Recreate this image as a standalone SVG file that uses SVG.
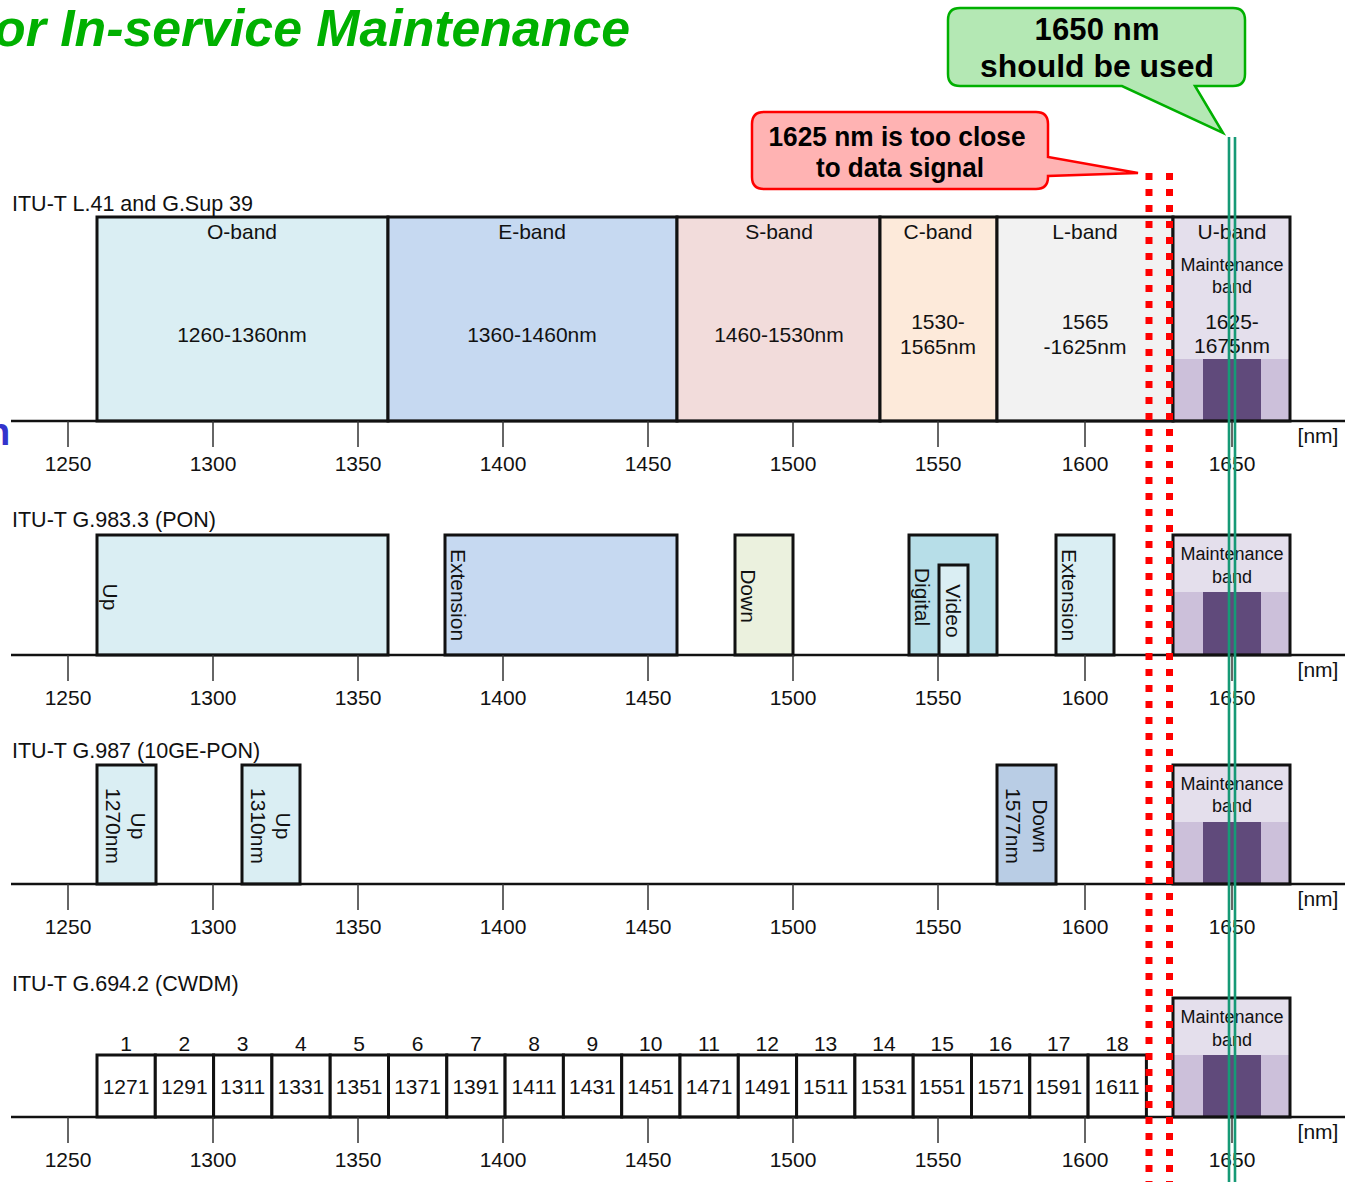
<svg xmlns="http://www.w3.org/2000/svg" width="1345" height="1182" viewBox="0 0 1345 1182">
<style>
.t{font-family:"Liberation Sans",Arial,sans-serif;font-size:21px;fill:#111;text-anchor:middle}
.s{font-size:18px}
.lab{text-anchor:start;font-size:21.5px}
.box{stroke:#111;stroke-width:3}
.ax{stroke:#111;stroke-width:2.5}
.tk{stroke:#333;stroke-width:1.5}
.c{font-family:"Liberation Sans",Arial,sans-serif;font-weight:bold;fill:#000;text-anchor:middle}
.red{fill:none;stroke:#ff0000;stroke-width:7;stroke-dasharray:7 9}
.grn{stroke:#169a76;stroke-width:2.6}
</style>
<rect width="1345" height="1182" fill="#fff"/>
<text x="-6" y="46" font-family="Liberation Sans,Arial,sans-serif" font-weight="bold" font-style="italic" font-size="52" fill="#00b000" textLength="636" lengthAdjust="spacingAndGlyphs">or In-service Maintenance</text>
<text x="-13" y="445" font-family="Liberation Sans,Arial,sans-serif" font-weight="bold" font-size="38" fill="#3333cc">n</text>

<g id="row1">
<text class="t lab" x="12" y="211">ITU-T L.41 and G.Sup 39</text>
<rect class="box" x="97" y="217" width="291" height="204" fill="#daeef3"/>
<rect class="box" x="388" y="217" width="289" height="204" fill="#c6d9f1"/>
<rect class="box" x="677" y="217" width="203" height="204" fill="#f2dcdb"/>
<rect class="box" x="880" y="217" width="117" height="204" fill="#fdeada"/>
<rect class="box" x="997" y="217" width="176" height="204" fill="#f2f2f2"/>
<rect x="1173" y="217" width="117" height="204" fill="#e4dfec"/>
<rect x="1173" y="359" width="117" height="62" fill="#ccc0da"/>
<rect x="1203" y="359" width="58" height="62" fill="#604a7b"/>
<rect class="box" x="1173" y="217" width="117" height="204" fill="none"/>
<text class="t" x="242" y="239">O-band</text>
<text class="t" x="242" y="342">1260-1360nm</text>
<text class="t" x="532" y="239">E-band</text>
<text class="t" x="532" y="342">1360-1460nm</text>
<text class="t" x="779" y="239">S-band</text>
<text class="t" x="779" y="342">1460-1530nm</text>
<text class="t" x="938" y="239">C-band</text>
<text class="t" x="938" y="329">1530-</text>
<text class="t" x="938" y="354">1565nm</text>
<text class="t" x="1085" y="239">L-band</text>
<text class="t" x="1085" y="329">1565</text>
<text class="t" x="1085" y="354">-1625nm</text>
<text class="t" x="1232" y="239">U-band</text>
<text class="t s" x="1232" y="271">Maintenance</text>
<text class="t s" x="1232" y="293">band</text>
<text class="t" x="1232" y="329">1625-</text>
<text class="t" x="1232" y="353">1675nm</text>
<line class="ax" x1="11" y1="421" x2="1345" y2="421"/>
<g class="tk"><line x1="68" y1="421" x2="68" y2="447"/><line x1="213" y1="421" x2="213" y2="447"/><line x1="358" y1="421" x2="358" y2="447"/><line x1="503" y1="421" x2="503" y2="447"/><line x1="648" y1="421" x2="648" y2="447"/><line x1="793" y1="421" x2="793" y2="447"/><line x1="938" y1="421" x2="938" y2="447"/><line x1="1085" y1="421" x2="1085" y2="447"/><line x1="1232" y1="421" x2="1232" y2="447"/></g>
<g class="t"><text x="68" y="471">1250</text><text x="213" y="471">1300</text><text x="358" y="471">1350</text><text x="503" y="471">1400</text><text x="648" y="471">1450</text><text x="793" y="471">1500</text><text x="938" y="471">1550</text><text x="1085" y="471">1600</text><text x="1232" y="471">1650</text></g>
<text class="t" x="1318" y="443">[nm]</text>
</g>

<g id="row2">
<text class="t lab" x="12" y="527">ITU-T G.983.3 (PON)</text>
<rect class="box" x="97" y="535" width="291" height="120" fill="#daeef3"/>
<rect class="box" x="445" y="535" width="232" height="120" fill="#c6d9f1"/>
<rect class="box" x="735" y="535" width="58" height="120" fill="#ebf1de"/>
<rect class="box" x="909" y="535" width="88" height="120" fill="#b7dee8"/>
<rect class="box" x="939" y="565" width="29" height="90" fill="#daeef3"/>
<rect class="box" x="1056" y="535" width="58" height="120" fill="#daeef3"/>
<rect x="1173" y="535" width="117" height="120" fill="#e4dfec"/>
<rect x="1173" y="592" width="117" height="63" fill="#ccc0da"/>
<rect x="1203" y="592" width="58" height="63" fill="#604a7b"/>
<rect class="box" x="1173" y="535" width="117" height="120" fill="none"/>
<text class="t" transform="translate(110,597) rotate(90)" y="7.5">Up</text>
<text class="t" transform="translate(458,595) rotate(90)" y="7.5">Extension</text>
<text class="t" transform="translate(748,596) rotate(90)" y="7.5">Down</text>
<text class="t" transform="translate(922,597) rotate(90)" y="7.5">Digital</text>
<text class="t" transform="translate(953,611) rotate(90)" y="7.5">Video</text>
<text class="t" transform="translate(1069,595) rotate(90)" y="7.5">Extension</text>
<text class="t s" x="1232" y="560">Maintenance</text>
<text class="t s" x="1232" y="583">band</text>
<line class="ax" x1="11" y1="655" x2="1345" y2="655"/>
<g class="tk"><line x1="68" y1="655" x2="68" y2="681"/><line x1="213" y1="655" x2="213" y2="681"/><line x1="358" y1="655" x2="358" y2="681"/><line x1="503" y1="655" x2="503" y2="681"/><line x1="648" y1="655" x2="648" y2="681"/><line x1="793" y1="655" x2="793" y2="681"/><line x1="938" y1="655" x2="938" y2="681"/><line x1="1085" y1="655" x2="1085" y2="681"/><line x1="1232" y1="655" x2="1232" y2="681"/></g>
<g class="t"><text x="68" y="705">1250</text><text x="213" y="705">1300</text><text x="358" y="705">1350</text><text x="503" y="705">1400</text><text x="648" y="705">1450</text><text x="793" y="705">1500</text><text x="938" y="705">1550</text><text x="1085" y="705">1600</text><text x="1232" y="705">1650</text></g>
<text class="t" x="1318" y="677">[nm]</text>
</g>

<g id="row3">
<text class="t lab" x="12" y="758">ITU-T G.987 (10GE-PON)</text>
<rect class="box" x="97" y="765" width="59" height="119" fill="#daeef3"/>
<rect class="box" x="242" y="765" width="58" height="119" fill="#daeef3"/>
<rect class="box" x="997" y="765" width="59" height="119" fill="#b9cde5"/>
<rect x="1173" y="765" width="117" height="119" fill="#e4dfec"/>
<rect x="1173" y="822" width="117" height="62" fill="#ccc0da"/>
<rect x="1203" y="822" width="58" height="62" fill="#604a7b"/>
<rect class="box" x="1173" y="765" width="117" height="119" fill="none"/>
<text class="t" transform="translate(138,826) rotate(90)" y="7.5">Up</text>
<text class="t" transform="translate(113,826) rotate(90)" y="7.5">1270nm</text>
<text class="t" transform="translate(283,826) rotate(90)" y="7.5">Up</text>
<text class="t" transform="translate(258,826) rotate(90)" y="7.5">1310nm</text>
<text class="t" transform="translate(1040,826) rotate(90)" y="7.5">Down</text>
<text class="t" transform="translate(1013,826) rotate(90)" y="7.5">1577nm</text>
<text class="t s" x="1232" y="790">Maintenance</text>
<text class="t s" x="1232" y="812">band</text>
<line class="ax" x1="11" y1="884" x2="1345" y2="884"/>
<g class="tk"><line x1="68" y1="884" x2="68" y2="910"/><line x1="213" y1="884" x2="213" y2="910"/><line x1="358" y1="884" x2="358" y2="910"/><line x1="503" y1="884" x2="503" y2="910"/><line x1="648" y1="884" x2="648" y2="910"/><line x1="793" y1="884" x2="793" y2="910"/><line x1="938" y1="884" x2="938" y2="910"/><line x1="1085" y1="884" x2="1085" y2="910"/><line x1="1232" y1="884" x2="1232" y2="910"/></g>
<g class="t"><text x="68" y="934">1250</text><text x="213" y="934">1300</text><text x="358" y="934">1350</text><text x="503" y="934">1400</text><text x="648" y="934">1450</text><text x="793" y="934">1500</text><text x="938" y="934">1550</text><text x="1085" y="934">1600</text><text x="1232" y="934">1650</text></g>
<text class="t" x="1318" y="906">[nm]</text>
</g>

<g id="row4">
<text class="t lab" x="12" y="991">ITU-T G.694.2 (CWDM)</text>
<g fill="#fff">
<rect class="box" x="97" y="1055" width="58.3" height="62"/><rect class="box" x="155.3" y="1055" width="58.3" height="62"/><rect class="box" x="213.6" y="1055" width="58.3" height="62"/><rect class="box" x="271.9" y="1055" width="58.3" height="62"/><rect class="box" x="330.2" y="1055" width="58.3" height="62"/><rect class="box" x="388.5" y="1055" width="58.3" height="62"/><rect class="box" x="446.8" y="1055" width="58.3" height="62"/><rect class="box" x="505.1" y="1055" width="58.3" height="62"/><rect class="box" x="563.4" y="1055" width="58.3" height="62"/><rect class="box" x="621.7" y="1055" width="58.3" height="62"/><rect class="box" x="680" y="1055" width="58.3" height="62"/><rect class="box" x="738.3" y="1055" width="58.3" height="62"/><rect class="box" x="796.6" y="1055" width="58.3" height="62"/><rect class="box" x="854.9" y="1055" width="58.3" height="62"/><rect class="box" x="913.2" y="1055" width="58.3" height="62"/><rect class="box" x="971.5" y="1055" width="58.3" height="62"/><rect class="box" x="1029.8" y="1055" width="58.3" height="62"/><rect class="box" x="1088.1" y="1055" width="58.3" height="62"/>
</g>
<g class="t">
<text x="126" y="1051">1</text><text x="184.3" y="1051">2</text><text x="242.6" y="1051">3</text><text x="300.9" y="1051">4</text><text x="359.2" y="1051">5</text><text x="417.5" y="1051">6</text><text x="475.8" y="1051">7</text><text x="534.1" y="1051">8</text><text x="592.4" y="1051">9</text><text x="650.7" y="1051">10</text><text x="709" y="1051">11</text><text x="767.3" y="1051">12</text><text x="825.6" y="1051">13</text><text x="883.9" y="1051">14</text><text x="942.2" y="1051">15</text><text x="1000.5" y="1051">16</text><text x="1058.8" y="1051">17</text><text x="1117.1" y="1051">18</text>
<text x="126" y="1094">1271</text><text x="184.3" y="1094">1291</text><text x="242.6" y="1094">1311</text><text x="300.9" y="1094">1331</text><text x="359.2" y="1094">1351</text><text x="417.5" y="1094">1371</text><text x="475.8" y="1094">1391</text><text x="534.1" y="1094">1411</text><text x="592.4" y="1094">1431</text><text x="650.7" y="1094">1451</text><text x="709" y="1094">1471</text><text x="767.3" y="1094">1491</text><text x="825.6" y="1094">1511</text><text x="883.9" y="1094">1531</text><text x="942.2" y="1094">1551</text><text x="1000.5" y="1094">1571</text><text x="1058.8" y="1094">1591</text><text x="1117.1" y="1094">1611</text>
</g>
<rect x="1173" y="998" width="117" height="119" fill="#e4dfec"/>
<rect x="1173" y="1055" width="117" height="62" fill="#ccc0da"/>
<rect x="1203" y="1055" width="58" height="62" fill="#604a7b"/>
<rect class="box" x="1173" y="998" width="117" height="119" fill="none"/>
<text class="t s" x="1232" y="1023">Maintenance</text>
<text class="t s" x="1232" y="1046">band</text>
<line class="ax" x1="11" y1="1117" x2="1345" y2="1117"/>
<g class="tk"><line x1="68" y1="1117" x2="68" y2="1143"/><line x1="213" y1="1117" x2="213" y2="1143"/><line x1="358" y1="1117" x2="358" y2="1143"/><line x1="503" y1="1117" x2="503" y2="1143"/><line x1="648" y1="1117" x2="648" y2="1143"/><line x1="793" y1="1117" x2="793" y2="1143"/><line x1="938" y1="1117" x2="938" y2="1143"/><line x1="1085" y1="1117" x2="1085" y2="1143"/><line x1="1232" y1="1117" x2="1232" y2="1143"/></g>
<g class="t"><text x="68" y="1167">1250</text><text x="213" y="1167">1300</text><text x="358" y="1167">1350</text><text x="503" y="1167">1400</text><text x="648" y="1167">1450</text><text x="793" y="1167">1500</text><text x="938" y="1167">1550</text><text x="1085" y="1167">1600</text><text x="1232" y="1167">1650</text></g>
<text class="t" x="1318" y="1139">[nm]</text>
</g>

<g id="markers">
<line class="red" x1="1149" y1="173" x2="1149" y2="1182"/>
<line class="red" x1="1169.5" y1="173" x2="1169.5" y2="1182"/>
<line class="grn" x1="1229" y1="137" x2="1229" y2="1182"/>
<line class="grn" x1="1235" y1="137" x2="1235" y2="1182"/>
</g>

<g id="callout-red">
<path d="M764,112 H1036 Q1048,112 1048,124 V157 L1138,173 L1048,176 V177 Q1048,189 1036,189 H764 Q752,189 752,177 V124 Q752,112 764,112 Z" fill="#ffb3b3" stroke="#ff0000" stroke-width="2.5"/>
<text class="c" x="897" y="146" font-size="27" textLength="257" lengthAdjust="spacingAndGlyphs">1625 nm is too close</text>
<text class="c" x="900" y="177" font-size="27" textLength="168" lengthAdjust="spacingAndGlyphs">to data signal</text>
</g>

<g id="callout-green">
<path d="M960,8 H1233 Q1245,8 1245,20 V74 Q1245,86 1233,86 H1195 L1223,133 L1122,86 H960 Q948,86 948,74 V20 Q948,8 960,8 Z" fill="#b4e8b4" stroke="#00b000" stroke-width="2.5"/>
<text class="c" x="1097" y="40" font-size="31" textLength="125" lengthAdjust="spacing">1650 nm</text>
<text class="c" x="1097" y="77" font-size="31" textLength="234" lengthAdjust="spacingAndGlyphs">should be used</text>
</g>
</svg>
